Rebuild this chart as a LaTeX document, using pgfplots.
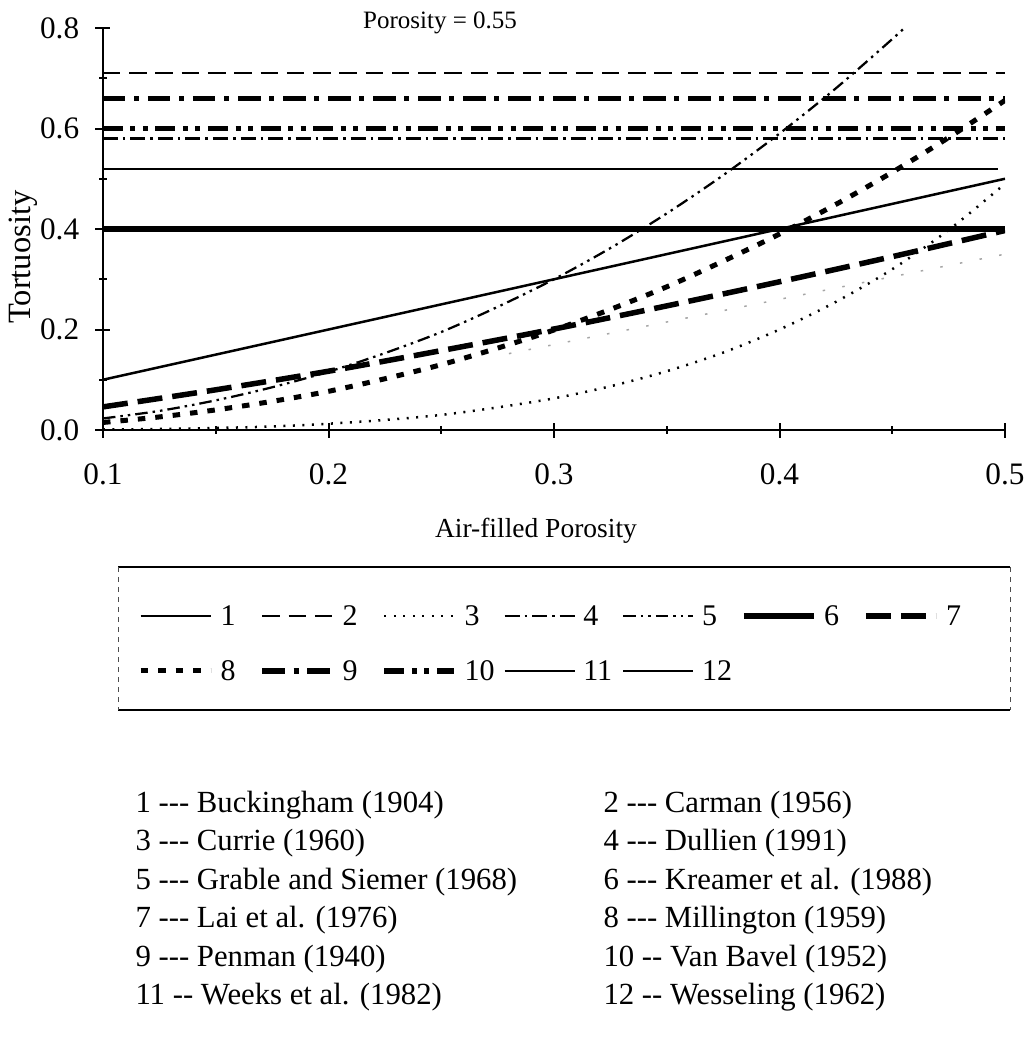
\documentclass[border=0pt]{standalone}
\usepackage{fontspec}
\setmainfont{Liberation Serif}
\usepackage{pgfplots}
\pgfplotsset{compat=1.18}

\begin{document}
\begin{tikzpicture}
\path[use as bounding box] (-41.2pt,-247.6pt) rectangle (369.2pt,172pt);
\begin{axis}[
  at={(0,0)}, anchor=south west,
  scale only axis, width=360.8pt, height=160.8pt,
  xmin=0.1, xmax=0.5, ymin=0, ymax=0.8,
  axis x line*=bottom, axis y line*=left,
  axis line style={line width=1pt},
  xtick={0.1,0.2,0.3,0.4,0.5}, ytick={0,0.2,0.4,0.6,0.8},
  minor xtick={0.15,0.25,0.35,0.45}, minor ytick={0.1,0.3,0.5,0.7},
  tick align=center, major tick length=6pt, minor tick length=3pt,
  tick style={line width=0.8pt, black},
  xticklabel style={/pgf/number format/.cd, fixed, fixed zerofill, precision=1, /tikz/.cd, yshift=-7pt},
  yticklabel style={/pgf/number format/.cd, fixed, fixed zerofill, precision=1, /tikz/.cd, xshift=-3pt},
  /pgf/number format/assume math mode=true,
  ticklabel style={font=\fontsize{12.5}{14}\selectfont},
  ylabel={Tortuosity},
  ylabel style={at={(axis description cs:-0.088,0.43)}, anchor=center, font=\fontsize{13}{15}\selectfont},
  xlabel={Air-filled Porosity},
  xlabel style={at={(axis description cs:0.48,-0.25)}, anchor=center, font=\fontsize{11}{13}\selectfont},
  clip=true,
  legend columns=7,
  legend image code/.code={\draw[#1] (0pt,0pt) -- (28pt,0pt);},
  legend style={draw=none, fill=none, at={(axis description cs:0.030,-0.531)}, anchor=west,
    font=\fontsize{12}{14}\selectfont,
    nodes={inner sep=1pt, text width=10pt, text height=8pt, text depth=0pt, align=left},
    row sep=12pt,
    /tikz/every odd column/.append style={column sep=2pt},
    /tikz/every even column/.append style={column sep=4.6pt}},
]
% 1 Buckingham
\addplot[black, line width=1pt] coordinates {(0.1,0.1) (0.5,0.5)};
\addlegendentry{1}
% 2 Carman
\addplot[black, line width=0.9pt, dash pattern=on 7pt off 3.5pt] coordinates {(0.1,0.71) (0.5,0.71)};
\addlegendentry{2}
% 3 Currie
\addplot[black, line width=1pt, dash pattern=on 0.8pt off 3pt, smooth] coordinates {
(0.10,0.001) (0.125,0.002) (0.15,0.004) (0.175,0.007) (0.20,0.0125) (0.225,0.020)
(0.25,0.030) (0.275,0.045) (0.30,0.063) (0.325,0.087) (0.35,0.117) (0.375,0.154)
(0.40,0.200) (0.425,0.255) (0.45,0.320) (0.475,0.398) (0.50,0.490)};
\addlegendentry{3}
% 4 Dullien
\addplot[black, line width=0.9pt, dash pattern=on 6pt off 2pt on 1pt off 2pt] coordinates {(0.1,0.58) (0.5,0.58)};
\addlegendentry{4}
% 5 Grable and Siemer
\addplot[black, line width=0.9pt, dash pattern=on 5pt off 2pt on 1pt off 2pt on 1pt off 2pt, smooth] coordinates {
(0.10,0.023) (0.125,0.038) (0.15,0.059) (0.175,0.085) (0.20,0.116) (0.225,0.153)
(0.25,0.195) (0.275,0.245) (0.30,0.300) (0.325,0.362) (0.35,0.431) (0.375,0.507)
(0.40,0.590) (0.425,0.680) (0.45,0.778) (0.456,0.803)};
\addlegendentry{5}
% 6 Kreamer et al.
\addplot[black, line width=2.2pt] coordinates {(0.1,0.4) (0.5,0.4)};
\addlegendentry{6}
% 7 Lai et al.
\addplot[black, line width=2.2pt, dash pattern=on 10pt off 4pt, smooth] coordinates {
(0.10,0.046) (0.15,0.080) (0.20,0.117) (0.25,0.158) (0.30,0.201) (0.35,0.247)
(0.40,0.295) (0.45,0.345) (0.50,0.397)};
\addlegendentry{7}
% 8 Millington
\addplot[black, line width=2pt, dash pattern=on 3pt off 4pt, smooth] coordinates {
(0.10,0.015) (0.125,0.026) (0.15,0.040) (0.175,0.057) (0.20,0.077) (0.225,0.102)
(0.25,0.130) (0.275,0.163) (0.30,0.199) (0.325,0.240) (0.35,0.285) (0.375,0.336)
(0.40,0.390) (0.425,0.449) (0.45,0.513) (0.475,0.582) (0.50,0.656)};
\addlegendentry{8}
% 9 Penman
\addplot[black, line width=2.2pt, dash pattern=on 9pt off 3.5pt on 2pt off 3.5pt] coordinates {(0.1,0.66) (0.5,0.66)};
\addlegendentry{9}
% 10 Van Bavel
\addplot[black, line width=2.2pt, dash pattern=on 8pt off 3pt on 2pt off 3pt on 2pt off 3pt] coordinates {(0.1,0.6) (0.5,0.6)};
\addlegendentry{10}
% 11 Weeks et al.
\addplot[black, line width=0.7pt] coordinates {(0.1,0.52) (0.497,0.52)};
\addlegendentry{11}
% 12 Wesseling (printed very faintly)
\addplot[black!35, line width=0.6pt, dash pattern=on 1pt off 7pt, forget plot] coordinates {(0.28,0.152) (0.5,0.35)};
\addlegendimage{black, line width=0.7pt}
\addlegendentry{12}
\end{axis}
% title
\node[font=\fontsize{10}{12}\selectfont] at (134.8pt,163pt) {Porosity = 0.55};
% legend frame
\draw[line width=0.8pt] (6pt,-54.8pt) -- (362.8pt,-54.8pt);
\draw[line width=0.8pt] (6pt,-112pt) -- (362.8pt,-112pt);
\draw[line width=0.4pt, dash pattern=on 2pt off 2pt, black!70] (6pt,-54.8pt) -- (6pt,-112pt);
\draw[line width=0.4pt, dash pattern=on 2pt off 2pt, black!70] (362.8pt,-54.8pt) -- (362.8pt,-112pt);
% key to the numbers
\begin{scope}[every node/.style={anchor=west, font=\fontsize{12.3}{14}\selectfont, inner sep=0pt}]
\node at (12.8pt,-150pt) {1 -{}-{}- Buckingham (1904)};
\node at (200pt,-150pt) {2 -{}-{}- Carman (1956)};
\node at (12.8pt,-165.4pt) {3 -{}-{}- Currie (1960)};
\node at (200pt,-165.4pt) {4 -{}-{}- Dullien (1991)};
\node at (12.8pt,-180.8pt) {5 -{}-{}- Grable and Siemer (1968)};
\node at (200pt,-180.8pt) {6 -{}-{}- Kreamer et al. (1988)};
\node at (12.8pt,-196.2pt) {7 -{}-{}- Lai et al. (1976)};
\node at (200pt,-196.2pt) {8 -{}-{}- Millington (1959)};
\node at (12.8pt,-211.6pt) {9 -{}-{}- Penman (1940)};
\node at (200pt,-211.6pt) {10 -{}- Van Bavel (1952)};
\node at (12.8pt,-227pt) {11 -{}- Weeks et al. (1982)};
\node at (200pt,-227pt) {12 -{}- Wesseling (1962)};
\end{scope}
\end{tikzpicture}
\end{document}
